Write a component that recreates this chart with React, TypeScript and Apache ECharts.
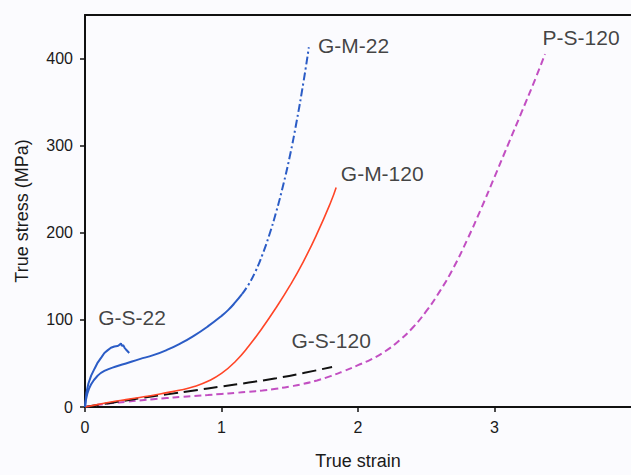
import React, { useEffect, useRef } from "react";
import * as echarts from "echarts";

// True strain / true stress (MPa) curves
const gs22: [number, number][] = [
  [0, 0], [0.01, 16], [0.025, 27], [0.045, 36], [0.07, 44], [0.093, 51], [0.12, 57],
  [0.142, 62], [0.165, 65], [0.19, 68], [0.215, 69.5], [0.238, 70], [0.25, 71],
  [0.263, 73], [0.27, 70], [0.28, 71], [0.29, 68], [0.3, 66], [0.324, 62],
];
const gm22Solid: [number, number][] = [
  [0, 0], [0.015, 14], [0.045, 26], [0.093, 36], [0.142, 41.5], [0.238, 47], [0.3, 50],
  [0.4, 55], [0.5, 59.5], [0.6, 65.5], [0.7, 73], [0.8, 82], [0.9, 92.5], [1.0, 104.5],
  [1.05, 111.5], [1.1, 120], [1.15, 129.5],
];
const gm22Dashed: [number, number][] = [
  [1.15, 129.5], [1.2, 141], [1.25, 156], [1.3, 175], [1.35, 197.5], [1.4, 223.5],
  [1.45, 253.5], [1.5, 287.5], [1.55, 327.5], [1.6, 372.5], [1.64, 413],
];
const gm120: [number, number][] = [
  [0, 0], [0.1, 3], [0.2, 6], [0.3, 8.5], [0.4, 11], [0.5, 13.5], [0.6, 16.5], [0.7, 19.5],
  [0.8, 23.5], [0.9, 29.5], [1.0, 38.5], [1.1, 52], [1.2, 70], [1.3, 91], [1.4, 114],
  [1.5, 139], [1.6, 167], [1.7, 199], [1.8, 235], [1.84, 252],
];
const gs120: [number, number][] = [
  [0, 0], [0.2, 5], [0.4, 10], [0.6, 14.5], [0.8, 19], [1.0, 23.5], [1.2, 28], [1.4, 33],
  [1.6, 39], [1.81, 46],
];
const ps120: [number, number][] = [
  [0, 0], [0.1, 2.5], [0.2, 4.5], [0.3, 6], [0.4, 7.5], [0.5, 9], [0.6, 10.3], [0.7, 11.5],
  [0.8, 12.7], [0.9, 13.8], [1.0, 15], [1.1, 16.2], [1.2, 17.5], [1.3, 19], [1.4, 21],
  [1.5, 23.5], [1.6, 26.5], [1.7, 30.5], [1.8, 35.5], [1.9, 41.5], [2.0, 48], [2.1, 55],
  [2.2, 64], [2.3, 76], [2.4, 91], [2.5, 110], [2.6, 133], [2.7, 160], [2.8, 192],
  [2.9, 227], [3.0, 264], [3.1, 301.5], [3.2, 339], [3.3, 377], [3.37, 405],
];

const labelNames = ["G-S-22", "G-M-22", "G-M-120", "G-S-120", "P-S-120"];
const labelX = [0.097, 1.707, 1.874, 1.513, 3.352];
const labelY = [103, 415, 268, 76, 424];

const xTicks = [0, 1, 2, 3];
const yTicks = [0, 100, 200, 300, 400];

const FONT = "Liberation Sans, Arial, Helvetica, sans-serif";

export default function App() {
  const ref = useRef<HTMLDivElement>(null);
  useEffect(() => {
    const chart = echarts.init(ref.current!, null, { renderer: "svg" });
    const axisLine = { show: true, lineStyle: { color: "#111", width: 2 } };
    const curve = (name: string, data: [number, number][], lineStyle: any, smooth: any = 0.5) => ({
      name,
      type: "line",
      data,
      showSymbol: false,
      smooth,
      lineStyle,
    });
    chart.setOption({
      animation: false,
      backgroundColor: "#fbfbfe",
      textStyle: { fontFamily: FONT },
      grid: { left: 85, top: 15, width: 550, height: 396 },
      xAxis: [
        {
          type: "value",
          min: 0,
          max: 4,
          interval: 1,
          position: "bottom",
          axisLine,
          axisTick: { show: true, length: 5, customValues: xTicks, lineStyle: { color: "#111", width: 1.5 } },
          axisLabel: { customValues: xTicks, fontSize: 16, color: "#1a1a1a", margin: 12, fontFamily: FONT },
          splitLine: { show: false },
          name: "True strain",
          nameLocation: "middle",
          nameGap: 45,
          nameTextStyle: { fontSize: 18, color: "#1a1a1a", fontFamily: FONT },
        },
        {
          type: "value",
          min: 0,
          max: 4,
          position: "top",
          axisLine,
          axisTick: { show: false },
          axisLabel: { show: false },
          splitLine: { show: false },
        },
      ],
      yAxis: {
        type: "value",
        min: 0,
        max: 450,
        interval: 50,
        axisLine,
        axisTick: { show: true, length: 5, customValues: yTicks, lineStyle: { color: "#111", width: 1.5 } },
        axisLabel: { customValues: yTicks, fontSize: 16, color: "#1a1a1a", margin: 12, fontFamily: FONT },
        splitLine: { show: false },
        name: "True stress (MPa)",
        nameLocation: "middle",
        nameGap: 54,
        nameTextStyle: { fontSize: 18, color: "#1a1a1a", fontFamily: FONT },
      },
      series: [
        curve("P-S-120", ps120, { color: "#c24fc2", width: 2, type: [7, 4] }),
        curve("G-S-120", gs120, { color: "#111", width: 2, type: [14, 6] }),
        curve("G-M-120", gm120, { color: "#ff4527", width: 1.6 }),
        curve("G-M-22", gm22Solid, { color: "#2b5cc6", width: 2 }),
        curve("G-M-22 (upper)", gm22Dashed, { color: "#2b5cc6", width: 2, type: [8, 3, 2, 3] }),
        curve("G-S-22", gs22, { color: "#2b5cc6", width: 2 }, false),
        {
          name: "labels",
          type: "scatter",
          silent: true,
          symbolSize: 0,
          data: labelNames.map((n, i) => ({ name: n, value: [labelX[i], labelY[i]] })),
          label: {
            show: true,
            position: "right",
            distance: 0,
            formatter: "{b}",
            fontSize: 21,
            color: "#111",
            fontFamily: FONT,
          },
        },
      ],
    });
    return () => chart.dispose();
  }, []);
  return (
    <div
      ref={ref}
      style={{ position: "absolute", left: 0, top: 0, width: 631, height: 475 }}
    />
  );
}
